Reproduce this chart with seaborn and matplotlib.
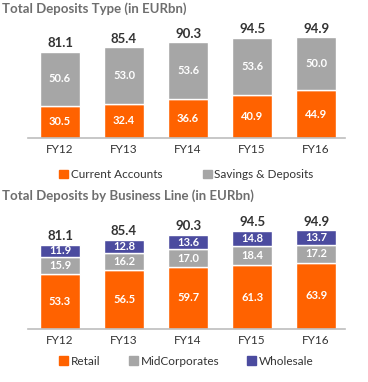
import matplotlib
matplotlib.use("Agg")
import matplotlib.pyplot as plt
import seaborn as sns
import numpy as np

# data
years = ["FY12", "FY13", "FY14", "FY15", "FY16"]
current_accounts = [30.5, 32.4, 36.6, 40.9, 44.9]
savings_deposits = [50.6, 53.0, 53.6, 53.6, 50.0]
retail = [53.3, 56.5, 59.7, 61.3, 63.9]
midcorporates = [15.9, 16.2, 17.0, 18.4, 17.2]
wholesale = [11.9, 12.8, 13.6, 14.8, 13.7]
totals = [81.1, 85.4, 90.3, 94.5, 94.9]

orange = "#FF6200"
grey = "#A6A6A6"
purple = "#4B4B9F"
title_col = "#6E6E6E"
text_col = "#333333"

sns.set_style("white")
plt.rcParams["font.family"] = ["Lato", "DejaVu Sans"]

fig = plt.figure(figsize=(3.68, 3.82), dpi=100)
W, H = 368, 382


def make_ax(top_px, base_px, scale):
    # axes spanning from top_px to base_px (pixels from top of figure)
    left, right = 28, 345
    h = base_px - top_px
    ax = fig.add_axes([left / W, (H - base_px) / H, (right - left) / W, h / H])
    ax.set_ylim(0, h / scale)
    return ax


def style_ax(ax):
    ax.set_xlim(-0.5, 4.45)
    sns.despine(ax=ax, left=True, top=True, right=True)
    ax.spines["bottom"].set_color("#BDBDBD")
    ax.spines["bottom"].set_linewidth(1.2)
    ax.set_yticks([])
    ax.set_ylabel("")
    ax.set_xlabel("")
    ax.tick_params(axis="x", length=0, pad=4, labelsize=8.5, labelcolor=text_col)


def legend(ax, labels, colors, spacing, y):
    handles = [plt.Rectangle((0, 0), 1, 1, color=c) for c in colors]
    ax.legend(handles, labels, loc="upper center", bbox_to_anchor=(0.5, y),
              ncol=len(labels), frameon=False, fontsize=8.5, handlelength=0.75,
              handleheight=0.75, handletextpad=0.25, columnspacing=spacing,
              labelcolor=text_col, borderaxespad=0)


# ---- Top chart: deposits by type
ax1 = make_ax(28, 138, 1.06)
sns.barplot(x=years, y=current_accounts, color=orange, width=0.62, ax=ax1,
            saturation=1)
sns.barplot(x=years, y=savings_deposits, bottom=current_accounts, color=grey,
            width=0.62, ax=ax1, saturation=1)
style_ax(ax1)
for cont in ax1.containers:
    ax1.bar_label(cont, fmt="%.1f", label_type="center", color="white",
                  fontsize=8, fontweight="bold")
ax1.bar_label(ax1.containers[-1], labels=[f"{t:.1f}" for t in totals],
              padding=2, color=text_col, fontsize=9.5, fontweight="bold")
legend(ax1, ["Current Accounts", "Savings & Deposits"], [orange, grey], 3.4, -0.24)
fig.text(2 / W, 1 - 9 / H, "Total Deposits Type (in EURbn)", color=title_col,
         fontsize=9.5, fontweight="bold", va="center", ha="left")

# ---- Bottom chart: deposits by business line
ax2 = make_ax(219, 329, 1.04)
bottom_w = list(np.add(retail, midcorporates))
sns.barplot(x=years, y=retail, color=orange, width=0.62, ax=ax2, saturation=1)
sns.barplot(x=years, y=midcorporates, bottom=retail, color=grey, width=0.62,
            ax=ax2, saturation=1)
sns.barplot(x=years, y=wholesale, bottom=bottom_w, color=purple, width=0.62,
            ax=ax2, saturation=1)
style_ax(ax2)
for cont in ax2.containers:
    ax2.bar_label(cont, fmt="%.1f", label_type="center", color="white",
                  fontsize=8, fontweight="bold")
ax2.bar_label(ax2.containers[-1], labels=[f"{t:.1f}" for t in totals],
              padding=2, color=text_col, fontsize=9.5, fontweight="bold")
legend(ax2, ["Retail", "MidCorporates", "Wholesale"], [orange, grey, purple], 2.4, -0.2)
fig.text(2 / W, 1 - 196 / H, "Total Deposits by Business Line (in EURbn)",
         color=title_col, fontsize=9.5, fontweight="bold", va="center",
         ha="left")

fig.savefig("out.png", dpi=100)
